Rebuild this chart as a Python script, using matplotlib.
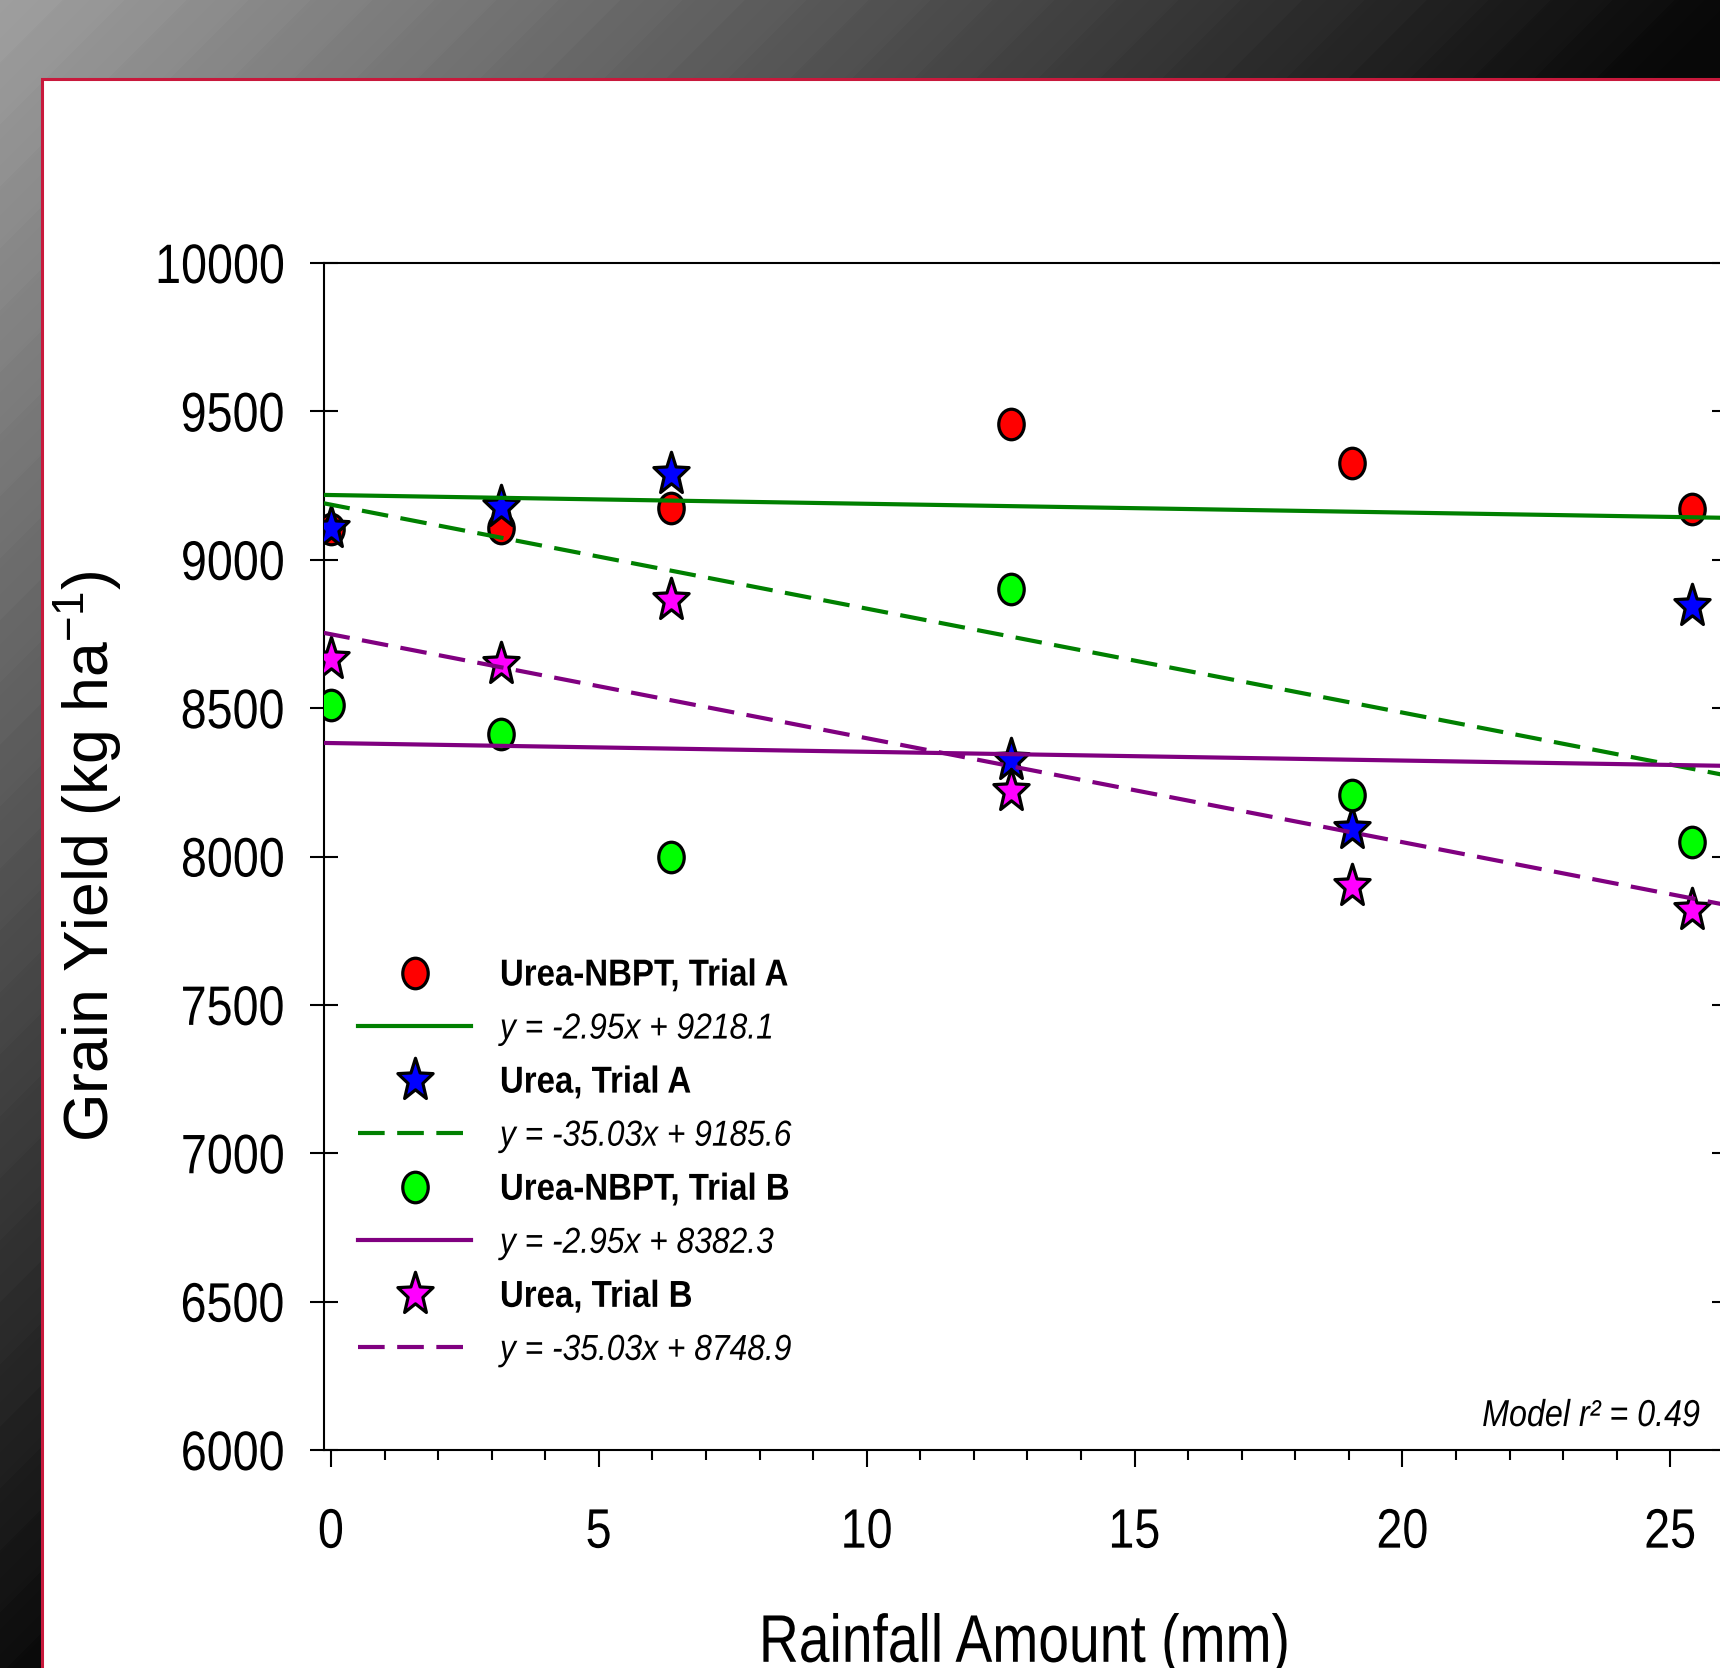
import numpy as np
import matplotlib
matplotlib.use("Agg")
import matplotlib.pyplot as plt
from matplotlib.path import Path
from matplotlib.patches import Rectangle
from matplotlib.lines import Line2D
from matplotlib.markers import MarkerStyle
from matplotlib.ticker import MultipleLocator
from matplotlib.patheffects import AbstractPathEffect
from matplotlib.transforms import Affine2D

plt.rcParams["font.family"] = ["Liberation Sans", "DejaVu Sans"]
plt.rcParams["mathtext.fontset"] = "custom"
plt.rcParams["mathtext.rm"] = "Liberation Sans"
plt.rcParams["mathtext.it"] = "Liberation Sans:italic"

# ── data ──
rain_mm = [0, 3.18, 6.35, 12.7, 19.05, 25.4]
nbpt_a = [9105, 9107, 9175, 9458, 9327, 9170]
urea_a = [9108, 9177, 9290, 8325, 8092, 8845]
nbpt_b = [8511, 8412, 8000, 8903, 8207, 8049]
urea_b = [8667, 8648, 8866, 8220, 7900, 7820]

series_names = ["Urea-NBPT, Trial A", "Urea, Trial A", "Urea-NBPT, Trial B", "Urea, Trial B"]
fit_slopes = [-2.95, -35.03, -2.95, -35.03]
fit_intercepts = [9218.1, 9185.6, 8382.3, 8748.9]
model_r2 = 0.49

W, H, DPI = 1720, 1668, 100
XMIN, XMAX = -0.14, 26.04


class Squeeze(AbstractPathEffect):
    """Draw text horizontally condensed (no narrow font installed)."""

    def __init__(self, sx, anchor=0.0):
        super().__init__()
        self.sx, self.anchor = sx, anchor

    def draw_path(self, renderer, gc, tpath, affine, rgbFace=None):
        w = tpath.get_extents().x1
        pre = Affine2D().scale(self.sx, 1.0).translate((1 - self.sx) * self.anchor * w, 0)
        renderer.draw_path(gc, tpath, pre + affine, rgbFace)


fig = plt.figure(figsize=(W / DPI, H / DPI), dpi=DPI)

# dark gradient backdrop with faint diagonal banding
yy, xx = np.mgrid[0:H, 0:W]
t = xx + yy
lev = 160 - 0.088 * t + 3.0 * ((t / 62.0) % 1.0) - 1.5
lev = np.clip(lev, 8, 255) / 255.0
fig.figimage(np.dstack([lev, lev, lev]), xo=0, yo=0, origin="upper", zorder=-5)

# white slide panel with crimson border
fig.add_artist(Rectangle((42 / W, -0.02), 1.0, 1 - 79 / H + 0.02,
                         transform=fig.transFigure, facecolor="white",
                         edgecolor="#c8193c", linewidth=2.2, zorder=-1))

ax = fig.add_axes([323.5 / W, 218 / H, (1726 - 323.5) / W, (1450 - 263) / H])

# markers (squeezed ellipse / star as in the original export)
circ = Path.unit_circle()
ellipse = MarkerStyle(Path(circ.vertices * [0.833, 1.0], circ.codes), joinstyle="miter")
st = Path.unit_regular_star(5, 0.42)
star = MarkerStyle(Path(st.vertices * [0.833, 1.0], st.codes), joinstyle="miter")

MEW = 2.3
mk_style = [
    dict(marker=ellipse, markersize=22, markerfacecolor="#ff0000"),
    dict(marker=star, markersize=32, markerfacecolor="#0000ff"),
    dict(marker=ellipse, markersize=22, markerfacecolor="#00ff00"),
    dict(marker=star, markersize=32, markerfacecolor="#ff00ff"),
]
line_style = [
    dict(color="#008000", linestyle="-"),
    dict(color="#008000", linestyle=(0, (6.4, 3.0))),
    dict(color="#800080", linestyle="-"),
    dict(color="#800080", linestyle=(0, (6.4, 3.0))),
]

for yv, ms in zip([nbpt_a, urea_a, nbpt_b, urea_b], mk_style):
    ax.plot(rain_mm, yv, linestyle="none", markeredgecolor="black",
            markeredgewidth=MEW, zorder=3, **ms)

xfit = np.array([XMIN, XMAX])
for m, b, ls in zip(fit_slopes, fit_intercepts, line_style):
    ax.plot(xfit, m * xfit + b, linewidth=3.0, zorder=4, **ls)

ax.set_xlim(XMIN, XMAX)
ax.set_ylim(6000, 10000)
ax.xaxis.set_major_locator(MultipleLocator(5))
ax.xaxis.set_minor_locator(MultipleLocator(1))
ax.yaxis.set_major_locator(MultipleLocator(500))
ax.tick_params(axis="x", which="major", direction="out", length=12, width=1.5,
               pad=29.5, labelsize=40)
ax.tick_params(axis="x", which="minor", direction="out", length=7, width=1.5)
ax.tick_params(axis="y", which="major", direction="inout", length=20, width=1.5,
               pad=18, labelsize=40, right=True)
for sp in ax.spines.values():
    sp.set_linewidth(1.5)
for tk in ax.xaxis.get_major_ticks():
    tk.label1.set_path_effects([Squeeze(0.84, 0.5)])
for tk in ax.yaxis.get_major_ticks():
    tk.label1.set_path_effects([Squeeze(0.84, 1.0)])

ax.set_xlabel("Rainfall Amount (mm)", fontsize=48.5,
              path_effects=[Squeeze(0.82, 0.5)])
ax.xaxis.set_label_coords(0.5, -0.138)
ax.set_ylabel("Grain Yield (kg ha$^{-1}$)", fontsize=45)
ax.yaxis.set_label_coords(-0.142, 0.5)

# legend: marker row then fitted-line row for each series
handles, labels = [], []
for name, ms, ls, m, b in zip(series_names, mk_style, line_style, fit_slopes, fit_intercepts):
    handles.append(Line2D([], [], linestyle="none", markeredgecolor="black",
                          markeredgewidth=MEW, **ms))
    labels.append(name)
    handles.append(Line2D([], [], linewidth=3.0, **ls))
    labels.append(f"y = {m:.2f}x + {b:.1f}")

leg = ax.legend(handles, labels, loc="upper left", bbox_to_anchor=(358 / W, 1 - 957.5 / H),
                bbox_transform=fig.transFigure, frameon=False, borderpad=0,
                borderaxespad=0, handlelength=3.13, handletextpad=0.8,
                labelspacing=0.5, fontsize=26, numpoints=1)
for i, txt in enumerate(leg.get_texts()):
    if i % 2 == 0:
        txt.set_fontweight("bold")
        txt.set_fontsize(27)
    else:
        txt.set_fontstyle("italic")
    txt.set_path_effects([Squeeze(0.88, 0.0)])

ax.text(0.9815, 0.0202, f"Model r\u00b2 = {model_r2:.2f}", transform=ax.transAxes,
        ha="right", va="baseline", fontsize=27, fontstyle="italic",
        path_effects=[Squeeze(0.86, 1.0)])

fig.savefig("out.png", dpi=DPI)
